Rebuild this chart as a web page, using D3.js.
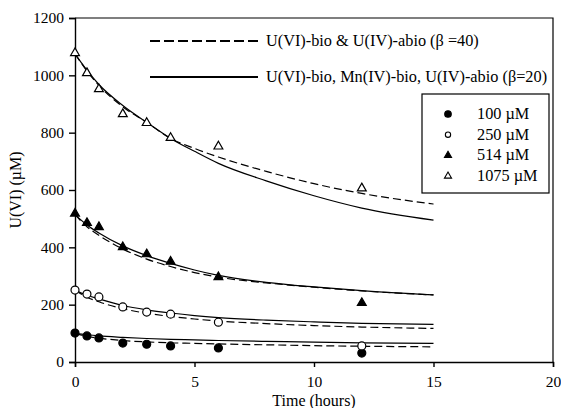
<!DOCTYPE html>
<html>
<head>
<meta charset="utf-8">
<script src="https://cdn.jsdelivr.net/npm/d3@7"></script>
<style>
  body { margin: 0; background: #fff; }
  svg { font-family: "Liberation Serif", "Times New Roman", serif; }
</style>
</head>
<body>
<svg id="chart" width="561" height="408"></svg>
<script>
// measured points, time in hours
var obsTimes = [0, 0.5, 1, 2, 3, 4, 6, 12];
var obs100  = [101, 91, 84, 66, 62, 56, 49, 31];
var obs250  = [251, 237, 227, 192, 174, 167, 139, 56];
var obs514  = [518, 485, 471, 401, 376, 350, 296, 206];
var obs1075 = [1078, 1008, 952, 865, 834, 782, 752, 606];

// model curves
var fitTimes = [0, 0.5, 1, 2, 3, 4, 5, 6, 8, 10, 12, 15];
// beta = 40 (dashed)
var dash100  = [100, 89, 83, 75, 70, 67, 65, 63, 60, 57, 55, 53];
var dash250  = [250, 226, 210, 186, 170, 159, 150, 143, 134, 127, 122, 117];
var dash514  = [514, 472, 442, 394, 359, 333, 312, 296, 276, 261, 248, 234];
var dash1075 = [1075, 1015, 965, 890, 836, 780, 745, 715, 665, 622, 588, 551];
// beta = 20 (solid)
var solid100  = [100, 95, 91, 86, 82, 79, 77, 75, 72, 69, 67, 65];
var solid250  = [250, 233, 220, 197, 182, 171, 162, 155, 146, 140, 135, 131];
var solid514  = [514, 478, 450, 405, 371, 344, 321, 302, 278, 262, 249, 234];
var solid1075 = [1075, 1018, 968, 895, 836, 780, 735, 693, 632, 580, 537, 495];

var xTicks = [0, 5, 10, 15, 20];
var yTicks = [0, 200, 400, 600, 800, 1000, 1200];
var legendLabels = ["100 \u00b5M", "250 \u00b5M", "514 \u00b5M", "1075 \u00b5M"];
var modelLabels = ["U(VI)-bio & U(IV)-abio (\u03b2 =40)", "U(VI)-bio, Mn(IV)-bio, U(IV)-abio (\u03b2=20)"];

var svg = d3.select("#chart");
var x = d3.scaleLinear().domain([0, 20]).range([75, 553]);
var y = d3.scaleLinear().domain([0, 1200]).range([362, 18]);

// frame (top and right)
svg.append("path")
  .attr("d", "M" + x(0) + "," + y(1200) + "H" + x(20) + "V" + y(0))
  .attr("fill", "none").attr("stroke", "#000").attr("stroke-width", 1.2);

var xAxis = svg.append("g")
  .attr("transform", "translate(0," + y(0) + ")")
  .call(d3.axisBottom(x).tickValues(xTicks).tickFormat(d3.format("d")).tickSize(5).tickPadding(9));
var yAxis = svg.append("g")
  .attr("transform", "translate(" + x(0) + ",0)")
  .call(d3.axisLeft(y).tickValues(yTicks).tickFormat(d3.format("d")).tickSize(6).tickPadding(5));
[xAxis, yAxis].forEach(function(g) {
  g.selectAll("path, line").attr("stroke", "#000").attr("stroke-width", 1.4);
  g.selectAll("text").attr("fill", "#000")
    .style("font-family", "Liberation Serif").style("font-size", "15.5px");
});

svg.append("text")
  .attr("x", (x(0) + x(20)) / 2).attr("y", 406)
  .attr("text-anchor", "middle").style("font-size", "16px")
  .text("Time (hours)");
svg.append("text")
  .attr("transform", "translate(21," + (y(0) + y(1200)) / 2 + ") rotate(-90)")
  .attr("text-anchor", "middle").style("font-size", "16px")
  .text("U(VI) (\u00b5M)");

// model lines
var line = d3.line()
  .x(function(d) { return x(d[0]); })
  .y(function(d) { return y(d[1]); })
  .curve(d3.curveMonotoneX);

function drawFit(vals, dashed) {
  svg.append("path")
    .datum(fitTimes.map(function(t, i) { return [t, vals[i]]; }))
    .attr("d", line)
    .attr("fill", "none").attr("stroke", "#000").attr("stroke-width", 1.2)
    .attr("stroke-dasharray", dashed ? "8,4" : null);
}
[dash100, dash250, dash514, dash1075].forEach(function(v) { drawFit(v, true); });
[solid100, solid250, solid514, solid1075].forEach(function(v) { drawFit(v, false); });

// markers
var styles = [
  { type: d3.symbolCircle, size: 50, fill: "#000" },
  { type: d3.symbolCircle, size: 50, fill: "#fff" },
  { type: d3.symbolTriangle, size: 34, fill: "#000" },
  { type: d3.symbolTriangle, size: 34, fill: "#fff" }
];
[obs100, obs250, obs514, obs1075].forEach(function(vals, k) {
  var s = styles[k];
  svg.append("g").selectAll("path")
    .data(obsTimes.map(function(t, i) { return [t, vals[i]]; }))
    .join("path")
    .attr("transform", function(d) { return "translate(" + x(d[0]) + "," + y(d[1]) + ")"; })
    .attr("d", d3.symbol().type(s.type).size(s.size))
    .attr("fill", s.fill).attr("stroke", "#000").attr("stroke-width", 1.2);
});

// model legend
modelLabels.forEach(function(lab, i) {
  var ly = 41 + i * 36;
  svg.append("line")
    .attr("x1", 150).attr("x2", 258).attr("y1", ly).attr("y2", ly)
    .attr("stroke", "#000").attr("stroke-width", 2)
    .attr("stroke-dasharray", i === 0 ? "10,4" : null);
  svg.append("text")
    .attr("x", 266).attr("y", ly + 5).style("font-size", "16.3px")
    .text(lab);
});

// concentration legend
svg.append("rect")
  .attr("x", 422).attr("y", 94).attr("width", 127).attr("height", 99)
  .attr("fill", "#fff").attr("stroke", "#000").attr("stroke-width", 1.2);
var legStyles = [
  { type: d3.symbolCircle, size: 34, fill: "#000" },
  { type: d3.symbolCircle, size: 22, fill: "#fff" },
  { type: d3.symbolTriangle, size: 22, fill: "#000" },
  { type: d3.symbolTriangle, size: 22, fill: "#fff" }
];
legendLabels.forEach(function(lab, i) {
  var ly = 114 + i * 20.7;
  var s = legStyles[i];
  svg.append("path")
    .attr("transform", "translate(448," + ly + ")")
    .attr("d", d3.symbol().type(s.type).size(s.size))
    .attr("fill", s.fill).attr("stroke", "#000").attr("stroke-width", 1.1);
  svg.append("text")
    .attr("x", 477).attr("y", ly + 5).style("font-size", "16.3px")
    .text(lab);
});
</script>
</body>
</html>
